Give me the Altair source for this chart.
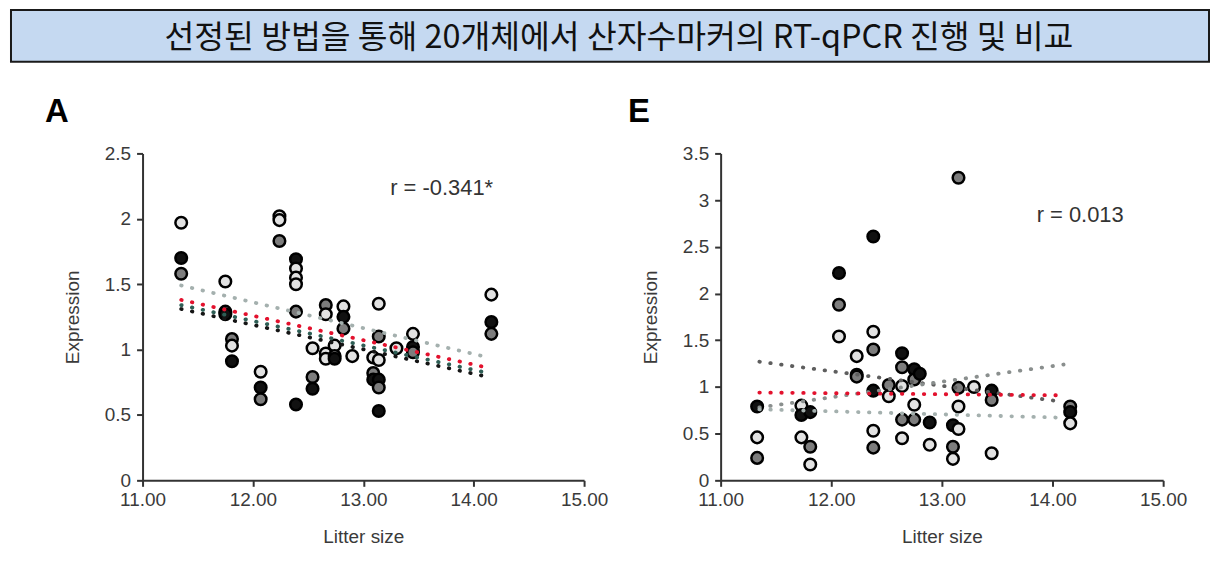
import altair as alt
import pandas as pd

TITLE = "선정된 방법을 통해 20개체에서 산자수마커의 RT-qPCR 진행 및 비교"

# ---------- Panel A ----------
a_x = [11.35, 11.35, 11.35,
       11.75, 11.75, 11.75,
       11.81, 11.81, 11.81,
       12.07, 12.07, 12.07,
       12.24, 12.24, 12.24,
       12.39, 12.39, 12.39, 12.39, 12.39, 12.39,
       12.54, 12.54, 12.54,
       12.66, 12.66, 12.66, 12.66,
       12.74, 12.74, 12.74,
       12.82, 12.82, 12.82,
       12.90,
       13.09, 13.09, 13.09,
       13.14, 13.14, 13.14, 13.14, 13.14, 13.14,
       13.30,
       13.45, 13.45, 13.45,
       14.16, 14.16, 14.16]
a_y = [1.97, 1.70, 1.58,
       1.52, 1.29, 1.27,
       1.08, 1.03, 0.91,
       0.83, 0.71, 0.62,
       2.02, 1.99, 1.83,
       1.69, 1.62, 1.55, 1.50, 1.29, 0.58,
       1.01, 0.79, 0.70,
       1.34, 1.27, 0.97, 0.93,
       1.03, 0.95, 0.93,
       1.33, 1.25, 1.16,
       0.95,
       0.94, 0.82, 0.77,
       1.35, 1.10, 0.92, 0.77, 0.71, 0.53,
       1.01,
       1.12, 1.02, 0.98,
       1.42, 1.21, 1.12]
a_g = ["white", "black", "gray",
       "white", "gray", "black",
       "gray", "white", "black",
       "white", "black", "gray",
       "white", "white", "gray",
       "black", "white", "white", "white", "gray", "black",
       "white", "gray", "black",
       "gray", "white", "white", "white",
       "white", "white", "black",
       "white", "black", "gray",
       "white",
       "white", "gray", "black",
       "white", "gray", "white", "black", "gray", "black",
       "white",
       "white", "black", "gray",
       "white", "black", "gray"]

# trend lines of panel A (end points)
a_line_id = ["lg", "lg", "bk", "bk", "tl", "tl", "rd", "rd"]
a_line_x = [11.35, 14.08, 11.35, 14.08, 11.35, 14.08, 11.35, 14.08]
a_line_y = [1.49, 0.95, 1.31, 0.80, 1.34, 0.83, 1.38, 0.87]

# ---------- Panel E ----------
e_x = [11.33, 11.33, 11.33,
       11.73, 11.73, 11.73,
       11.81, 11.81, 11.81,
       12.07, 12.07, 12.07,
       12.23, 12.23, 12.23,
       12.38, 12.38, 12.38, 12.38, 12.38, 12.38,
       12.52, 12.52,
       12.64, 12.64, 12.64, 12.64, 12.64,
       12.75, 12.75, 12.75, 12.75,
       12.80,
       12.89, 12.89,
       13.10, 13.10, 13.10,
       13.15, 13.15, 13.15, 13.15,
       13.29,
       13.45, 13.45, 13.45,
       14.16, 14.16, 14.16]
e_y = [0.79, 0.46, 0.24,
       0.80, 0.70, 0.46,
       0.73, 0.36, 0.17,
       2.22, 1.88, 1.54,
       1.33, 1.13, 1.11,
       2.61, 1.59, 1.40, 0.96, 0.53, 0.35,
       1.02, 0.90,
       1.36, 1.21, 1.01, 0.65, 0.45,
       1.19, 1.08, 0.81, 0.65,
       1.14,
       0.62, 0.38,
       0.59, 0.36, 0.23,
       3.24, 0.99, 0.79, 0.55,
       1.00,
       0.96, 0.86, 0.29,
       0.79, 0.73, 0.61]
e_g = ["black", "white", "gray",
       "white", "black", "white",
       "black", "gray", "white",
       "black", "gray", "white",
       "white", "gray", "gray",
       "black", "white", "gray", "black", "white", "gray",
       "gray", "white",
       "black", "gray", "white", "gray", "white",
       "black", "gray", "white", "gray",
       "black",
       "black", "white",
       "black", "gray", "white",
       "gray", "gray", "white", "white",
       "white",
       "black", "gray", "white",
       "gray", "black", "white"]

e_line_id = ["dg", "dg", "mg", "mg", "lg", "lg", "rd", "rd"]
e_line_x = [11.35, 14.10, 11.35, 14.10, 11.35, 14.10, 11.35, 14.10]
e_line_y = [1.27, 0.84, 0.78, 1.24, 0.76, 0.67, 0.94, 0.91]

# annotation
a_r_text = ["r = -0.341*"]
a_r_x = [13.71]
a_r_y = [2.235]
e_r_text = ["r = 0.013"]
e_r_x = [14.25]
e_r_y = [2.84]

x_ticks = [11, 12, 13, 14, 15]
a_y_ticks = [0, 0.5, 1, 1.5, 2, 2.5]
e_y_ticks = [0, 0.5, 1, 1.5, 2, 2.5, 3, 3.5]

FONT = "Liberation Sans"
AXIS_COL = "#3a3a3a"

fill_scale = alt.Scale(domain=["black", "gray", "white"],
                       range=["#111111", "#7d7d7d", "#e2e2e2"])
line_scale = alt.Scale(domain=["lg", "bk", "tl", "rd", "dg", "mg"],
                       range=["#a4b0ae", "#151515", "#2e5e55", "#e3112d", "#5e5e5e", "#8a8f8e"])


def panel(px, py, pg, lid, lx, ly, rt, rx, ry, ymax, yticks, letter, w, h, dx):
    pts = pd.DataFrame({"x": px, "y": py, "g": pg})
    lines = pd.DataFrame({"id": lid, "x": lx, "y": ly})
    ann = pd.DataFrame({"t": rt, "x": rx, "y": ry})
    xs = alt.Scale(domain=[11, 15], nice=False, zero=False)
    ys = alt.Scale(domain=[0, ymax], nice=False)
    xax = alt.Axis(values=x_ticks, format=".2f", title="Litter size", grid=False,
                   labelFlush=False, labelOverlap=False, labelFontSize=19,
                   labelPadding=4, titleFontSize=19, titlePadding=18)
    yax = alt.Axis(values=yticks, format="~g", title="Expression", grid=False,
                   labelFlush=False, labelOverlap=False, labelFontSize=19,
                   labelPadding=6, titleFontSize=19, titlePadding=22)
    base = alt.Chart(pts)
    points = base.mark_circle(size=135, stroke="#000000", strokeWidth=2.5, opacity=1).encode(
        x=alt.X("x:Q", scale=xs, axis=xax),
        y=alt.Y("y:Q", scale=ys, axis=yax),
        fill=alt.Fill("g:N", scale=fill_scale, legend=None),
    )
    trend = alt.Chart(lines).mark_line(strokeDash=[0.5, 10.5], strokeCap="round", strokeWidth=3.8).encode(
        x=alt.X("x:Q", scale=xs),
        y=alt.Y("y:Q", scale=ys),
        detail="id:N",
        stroke=alt.Stroke("id:N", scale=line_scale, legend=None),
    )
    txt = alt.Chart(ann).mark_text(fontSize=22, font=FONT, color="#333333").encode(
        x=alt.X("x:Q", scale=xs),
        y=alt.Y("y:Q", scale=ys),
        text="t:N",
    )
    return alt.layer(points, trend, txt).properties(
        width=w, height=h,
        title=alt.TitleParams(letter, anchor="start", frame="group", fontSize=33,
                              fontWeight="bold", font=FONT, color="#000000",
                              dx=dx, offset=16),
    )


chartA = panel(a_x, a_y, a_g, a_line_id, a_line_x, a_line_y,
               a_r_text, a_r_x, a_r_y, 2.5, a_y_ticks, "A", 443, 328, -98)
chartE = panel(e_x, e_y, e_g, e_line_id, e_line_x, e_line_y,
               e_r_text, e_r_x, e_r_y, 3.5, e_y_ticks, "E", 444, 328, -93)


def spacer(w):
    return alt.Chart(pd.DataFrame({"v": [0]})).mark_point(opacity=0).encode(
        x=alt.value(0), y=alt.value(0)
    ).properties(width=w, height=10, view=alt.ViewBackground(stroke=None))


title_bar = alt.Chart(pd.DataFrame({"t": [TITLE]})).mark_text(
    fontSize=32.5, font="Noto Sans CJK KR", color="#111111"
).encode(
    text="t:N", x=alt.value(610), y=alt.value(28)
).properties(
    width=1202, height=52,
    view=alt.ViewBackground(fill="#c5d9f1", stroke="#1a1a1a", strokeWidth=2),
)

bottom = alt.hconcat(spacer(34), chartA, spacer(17), chartE, spacing=0)

chart = alt.vconcat(title_bar, bottom, spacing=33).properties(
    padding={"left": 0, "top": 0, "right": 0, "bottom": 0}
).configure_view(stroke=None).configure_axis(
    domainColor="#333333", domainWidth=2, tickColor="#333333", tickWidth=2, tickSize=6,
    labelFont=FONT, labelFontSize=19, labelColor=AXIS_COL, labelPadding=4,
    titleFont=FONT, titleFontSize=19, titleFontWeight="normal", titleColor=AXIS_COL,
).configure_concat(spacing=0)

chart.save("out.html", embed_options={"renderer": "svg", "actions": False})
